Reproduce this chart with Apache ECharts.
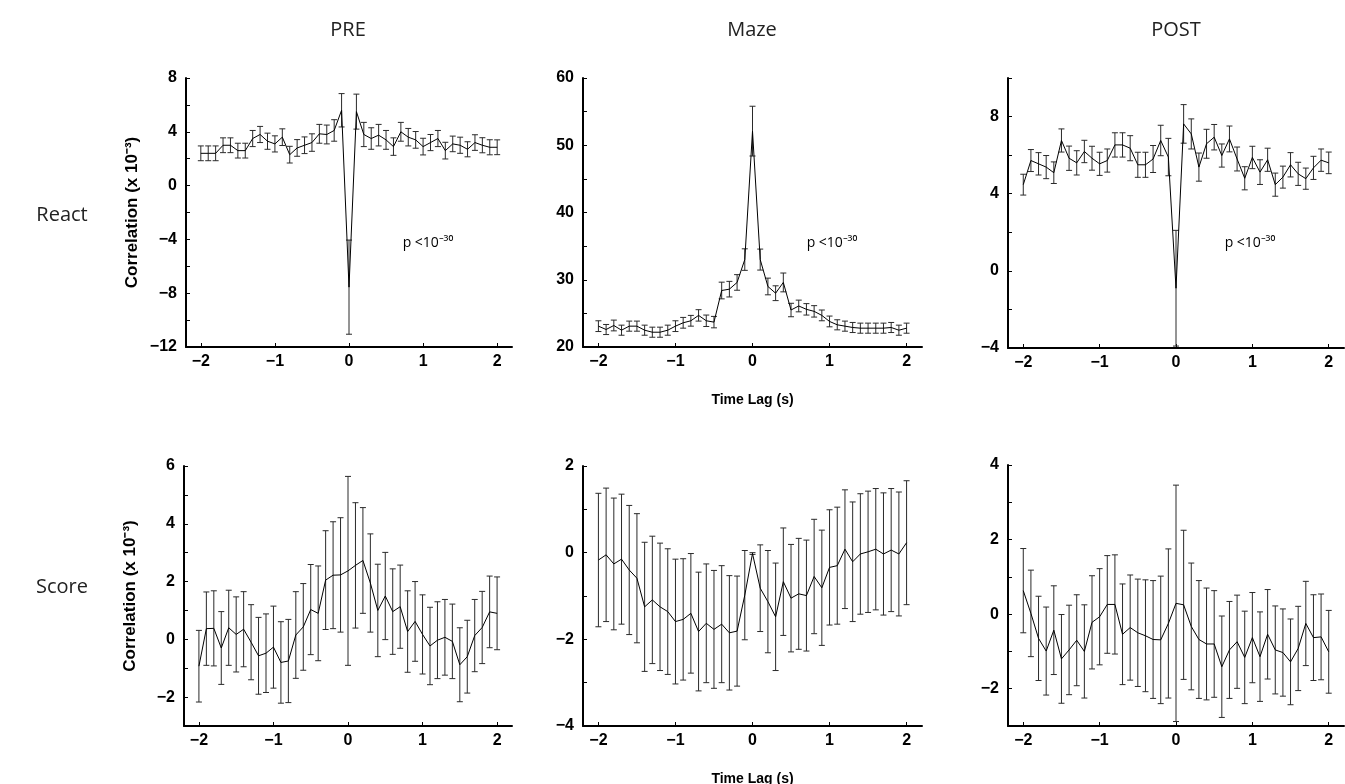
<!DOCTYPE html>
<html>
<head>
<meta charset="utf-8">
<script src="https://cdn.jsdelivr.net/npm/echarts@6/dist/echarts.min.js"></script>
<style>
  html, body { margin: 0; padding: 0; background: #fff; }
  #chart { width: 1345px; height: 784px; }
</style>
</head>
<body>
<div id="chart"></div>
<script>
// time lags, -2 .. 2 s in 0.1 s steps
const lags = [
  -2.0, -1.9, -1.8, -1.7, -1.6, -1.5, -1.4, -1.3, -1.2, -1.1, -1.0,
  -0.9, -0.8, -0.7, -0.6, -0.5, -0.4, -0.3, -0.2, -0.1, 0.0,
  0.1, 0.2, 0.3, 0.4, 0.5, 0.6, 0.7, 0.8, 0.9, 1.0,
  1.1, 1.2, 1.3, 1.4, 1.5, 1.6, 1.7, 1.8, 1.9, 2.0
];
const xTicks = [-2, -1, 0, 1, 2];

// React row
const preReact = [
  2.4, 2.4, 2.4, 3.0, 3.0, 2.6, 2.6, 3.5, 3.8, 3.3, 3.1,
  3.6, 2.3, 2.8, 3.0, 3.2, 3.85, 3.8, 4.1, 5.6, -7.55,
  5.5, 3.8, 3.5, 3.75, 3.4, 2.9, 4.0, 3.6, 3.4, 2.9,
  3.2, 3.5, 2.6, 3.1, 3.0, 2.7, 3.2, 3.0, 2.85, 2.85
];
const preReactErr = [
  0.55, 0.55, 0.55, 0.55, 0.55, 0.55, 0.55, 0.6, 0.6, 0.6, 0.6,
  0.62, 0.62, 0.62, 0.62, 0.65, 0.7, 0.7, 0.8, 1.24, 3.5,
  1.3, 0.9, 0.8, 0.8, 0.7, 0.65, 0.7, 0.65, 0.62, 0.62,
  0.6, 0.6, 0.62, 0.58, 0.6, 0.56, 0.58, 0.56, 0.56, 0.55
];
const mazeReact = [
  23.1, 22.6, 23.2, 22.5, 23.1, 23.1, 22.5, 22.2, 22.2, 22.5, 23.1,
  23.6, 23.9, 24.7, 23.9, 23.7, 28.4, 28.6, 29.6, 33.0, 52.1,
  33.0, 29.0, 28.0, 29.6, 25.5, 26.1, 25.6, 25.3, 24.7, 23.8,
  23.3, 23.1, 22.9, 22.8, 22.8, 22.8, 22.8, 22.9, 22.5, 22.8
];
const mazeReactErr = [
  0.8, 0.75, 0.8, 0.75, 0.75, 0.75, 0.75, 0.75, 0.75, 0.75, 0.8,
  0.8, 0.8, 0.85, 0.85, 0.85, 1.24, 1.16, 1.16, 1.6, 3.7,
  1.56, 1.24, 1.1, 1.4, 1.0, 0.87, 0.85, 0.85, 0.8, 0.8,
  0.75, 0.75, 0.75, 0.75, 0.75, 0.75, 0.75, 0.75, 0.75, 0.75
];
const postReact = [
  4.47, 5.72, 5.55, 5.38, 5.09, 6.76, 5.84, 5.6, 6.19, 5.84, 5.55,
  5.72, 6.53, 6.53, 6.36, 5.5, 5.5, 5.8, 6.76, 5.9, -0.9,
  7.62, 7.1, 5.38, 6.59, 6.93, 5.98, 6.84, 5.8, 4.8, 5.88,
  5.12, 5.76, 4.47, 4.86, 5.5, 5.03, 4.78, 5.34, 5.74, 5.6
];
const postReactErr = [
  0.54, 0.57, 0.58, 0.6, 0.56, 0.6, 0.63, 0.63, 0.58, 0.62, 0.6,
  0.6, 0.63, 0.63, 0.65, 0.65, 0.65, 0.7, 0.79, 0.97, 3.0,
  1.0, 0.78, 0.73, 0.75, 0.66, 0.6, 0.67, 0.62, 0.6, 0.58,
  0.64, 0.6, 0.6, 0.57, 0.63, 0.6, 0.55, 0.6, 0.58, 0.56
];

// Score row
const preScore = [
  -0.93, 0.37, 0.38, -0.3, 0.4, 0.17, 0.35, -0.1, -0.57, -0.48, -0.27,
  -0.8, -0.75, 0.15, 0.43, 1.03, 0.9, 2.05, 2.22, 2.23, 2.37,
  2.56, 2.73, 1.95, 1.0, 1.5, 0.96, 1.13, 0.27, 0.62, 0.17,
  -0.23, -0.03, 0.07, -0.07, -0.88, -0.6, 0.13, 0.41, 0.95, 0.9
];
const preScoreErr = [
  1.24, 1.27, 1.3, 1.26, 1.3, 1.3, 1.3, 1.3, 1.33, 1.36, 1.42,
  1.41, 1.44, 1.5, 1.5, 1.56, 1.64, 1.71, 1.85, 1.98, 3.27,
  2.17, 1.83, 1.7, 1.6, 1.51, 1.48, 1.44, 1.41, 1.38, 1.37,
  1.34, 1.33, 1.31, 1.29, 1.28, 1.26, 1.25, 1.25, 1.24, 1.26
];
const mazeScore = [
  -0.17, -0.05, -0.26, -0.15, -0.4, -0.59, -1.25, -1.09, -1.25, -1.36, -1.59,
  -1.54, -1.4, -1.82, -1.63, -1.77, -1.65, -1.85, -1.81, -0.98, -0.02,
  -0.82, -1.13, -1.48, -0.67, -1.05, -0.95, -0.99, -0.55, -0.81, -0.34,
  -0.3, 0.08, -0.21, -0.03, 0.02, 0.08, -0.03, 0.06, -0.03, 0.23
];
const mazeScoreErr = [
  1.54, 1.54, 1.52, 1.5, 1.49, 1.49, 1.49, 1.47, 1.47, 1.45, 1.44,
  1.4, 1.38, 1.37, 1.37, 1.36, 1.35, 1.32, 1.27, 1.03, 0.02,
  1.0, 1.18, 1.24, 1.24, 1.24, 1.28, 1.28, 1.32, 1.33, 1.33,
  1.35, 1.37, 1.38, 1.39, 1.4, 1.4, 1.41, 1.42, 1.43, 1.43
];
const postScore = [
  0.63, 0.02, -0.65, -0.99, -0.43, -1.2, -0.96, -0.7, -1.0, -0.22, -0.07,
  0.26, 0.26, -0.54, -0.36, -0.5, -0.58, -0.68, -0.69, -0.25, 0.29,
  0.25, -0.33, -0.68, -0.8, -0.8, -1.41, -0.96, -0.74, -1.16, -0.63,
  -1.14, -0.54, -0.96, -1.03, -1.28, -0.92, -0.25, -0.63, -0.61, -1.01
];
const postScoreErr = [
  1.13, 1.16, 1.13, 1.18, 1.19, 1.19, 1.2, 1.22, 1.25, 1.25, 1.29,
  1.31, 1.33, 1.35, 1.41, 1.44, 1.5, 1.58, 1.71, 2.0, 3.17,
  2.0, 1.7, 1.58, 1.5, 1.43, 1.36, 1.3, 1.25, 1.24, 1.21,
  1.2, 1.2, 1.18, 1.17, 1.15, 1.13, 1.13, 1.15, 1.15, 1.11
];

const columnTitles = ['PRE', 'Maze', 'POST'];
const rowTitles = ['React', 'Score'];
const pText = 'p <10\u207B\u00B3\u2070';
const yName = 'Correlation (x 10\u207B\u00B3)';
const xName = 'Time Lag (s)';

const chart = echarts.init(document.getElementById('chart'));

// panel layout: grid box, y range, tick step, label step
const panels = [
  { mean: preReact, err: preReactErr, grid: [186, 78, 326, 269], ymin: -12, ymax: 8, step: 2, labelStep: 4, cap: 3 },
  { mean: mazeReact, err: mazeReactErr, grid: [583, 78, 339, 269], ymin: 20, ymax: 60, step: 5, labelStep: 10, cap: 3 },
  { mean: postReact, err: postReactErr, grid: [1008, 78, 336, 270], ymin: -4, ymax: 10, step: 2, labelStep: 4, cap: 3 },
  { mean: preScore, err: preScoreErr, grid: [184, 466, 328, 260], ymin: -3, ymax: 6, step: 1, labelStep: 2, cap: 3 },
  { mean: mazeScore, err: mazeScoreErr, grid: [583, 466, 339, 260], ymin: -4, ymax: 2, step: 1, labelStep: 2, cap: 3 },
  { mean: postScore, err: postScoreErr, grid: [1008, 465, 336, 261], ymin: -3, ymax: 4, step: 1, labelStep: 2, cap: 3 }
];

const minus = v => String(v).replace('-', '\u2212');
const tickFont = {
  color: '#000',
  fontFamily: 'Liberation Sans, Arial, sans-serif',
  fontWeight: 'bold',
  fontSize: 16
};
const nameFont = {
  color: '#000',
  fontFamily: 'Liberation Sans, Arial, sans-serif',
  fontWeight: 'bold'
};

function errorBar(cap) {
  return function (params, api) {
    const x = api.value(0);
    const m = api.value(1);
    const e = api.value(2);
    const top = api.coord([x, m + e]);
    const bot = api.coord([x, m - e]);
    const style = { stroke: '#2a2a2a', lineWidth: 1 };
    return {
      type: 'group',
      children: [
        { type: 'line', shape: { x1: top[0], y1: top[1], x2: bot[0], y2: bot[1] }, style: style },
        { type: 'line', shape: { x1: top[0] - cap, y1: top[1], x2: top[0] + cap, y2: top[1] }, style: style },
        { type: 'line', shape: { x1: bot[0] - cap, y1: bot[1], x2: bot[0] + cap, y2: bot[1] }, style: style }
      ]
    };
  };
}

const grid = [];
const xAxis = [];
const yAxis = [];
const series = [];

panels.forEach((p, i) => {
  grid.push({
    left: p.grid[0], top: p.grid[1], width: p.grid[2], height: p.grid[3],
    containLabel: false, outerBoundsMode: 'none'
  });
  xAxis.push({
    type: 'value',
    gridIndex: i,
    min: -2.2,
    max: 2.2,
    splitLine: { show: false },
    axisLine: { onZero: false, lineStyle: { color: '#000', width: 2 } },
    axisTick: { inside: true, length: 4, customValues: xTicks, lineStyle: { color: '#000', width: 1 } },
    axisLabel: Object.assign({ customValues: xTicks, margin: 7, formatter: v => minus(v) }, tickFont),
    name: i % 3 === 1 ? xName : '',
    nameLocation: 'middle',
    nameGap: 46,
    nameTextStyle: Object.assign({ fontSize: 14 }, nameFont)
  });
  yAxis.push({
    type: 'value',
    gridIndex: i,
    min: p.ymin,
    max: p.ymax,
    interval: p.step,
    splitLine: { show: false },
    axisLine: { onZero: false, lineStyle: { color: '#000', width: 2 } },
    axisTick: { inside: true, length: 4, lineStyle: { color: '#000', width: 1 } },
    axisLabel: Object.assign({
      margin: 9,
      formatter: v => (Math.abs(v % p.labelStep) < 1e-9 ? minus(v) : '')
    }, tickFont),
    name: i % 3 === 0 ? yName : '',
    nameLocation: 'middle',
    nameRotate: 90,
    nameGap: 45,
    nameTextStyle: Object.assign({ fontSize: 17 }, nameFont)
  });
  series.push({
    type: 'custom',
    xAxisIndex: i,
    yAxisIndex: i,
    renderItem: errorBar(p.cap),
    encode: { x: 0, y: 1 },
    data: lags.map((t, k) => [t, p.mean[k], p.err[k]]),
    silent: true,
    z: 2
  });
  series.push({
    type: 'line',
    xAxisIndex: i,
    yAxisIndex: i,
    data: lags.map((t, k) => [t, p.mean[k]]),
    symbol: 'none',
    lineStyle: { color: '#000', width: 1 },
    silent: true,
    z: 3
  });
});

const labelFont = 'Open Sans, Noto Sans, sans-serif';
const graphic = [];
[348, 752, 1176].forEach((x, i) => {
  graphic.push({
    type: 'text', x: x, y: 30,
    style: { text: columnTitles[i], fontFamily: labelFont, fontSize: 20, fill: '#222', align: 'center', verticalAlign: 'middle', textAlign: 'center', textVerticalAlign: 'middle' }
  });
});
[215, 587].forEach((y, i) => {
  graphic.push({
    type: 'text', x: 62, y: y,
    style: { text: rowTitles[i], fontFamily: labelFont, fontSize: 20, fill: '#222', align: 'center', verticalAlign: 'middle', textAlign: 'center', textVerticalAlign: 'middle' }
  });
});
[428, 832, 1250].forEach(x => {
  graphic.push({
    type: 'text', x: x, y: 243,
    style: { text: pText, fontFamily: labelFont, fontSize: 14, fill: '#000', align: 'center', verticalAlign: 'middle', textAlign: 'center', textVerticalAlign: 'middle' }
  });
});

chart.setOption({
  animation: false,
  backgroundColor: '#fff',
  grid: grid,
  xAxis: xAxis,
  yAxis: yAxis,
  series: series,
  graphic: graphic
});
</script>
</body>
</html>
